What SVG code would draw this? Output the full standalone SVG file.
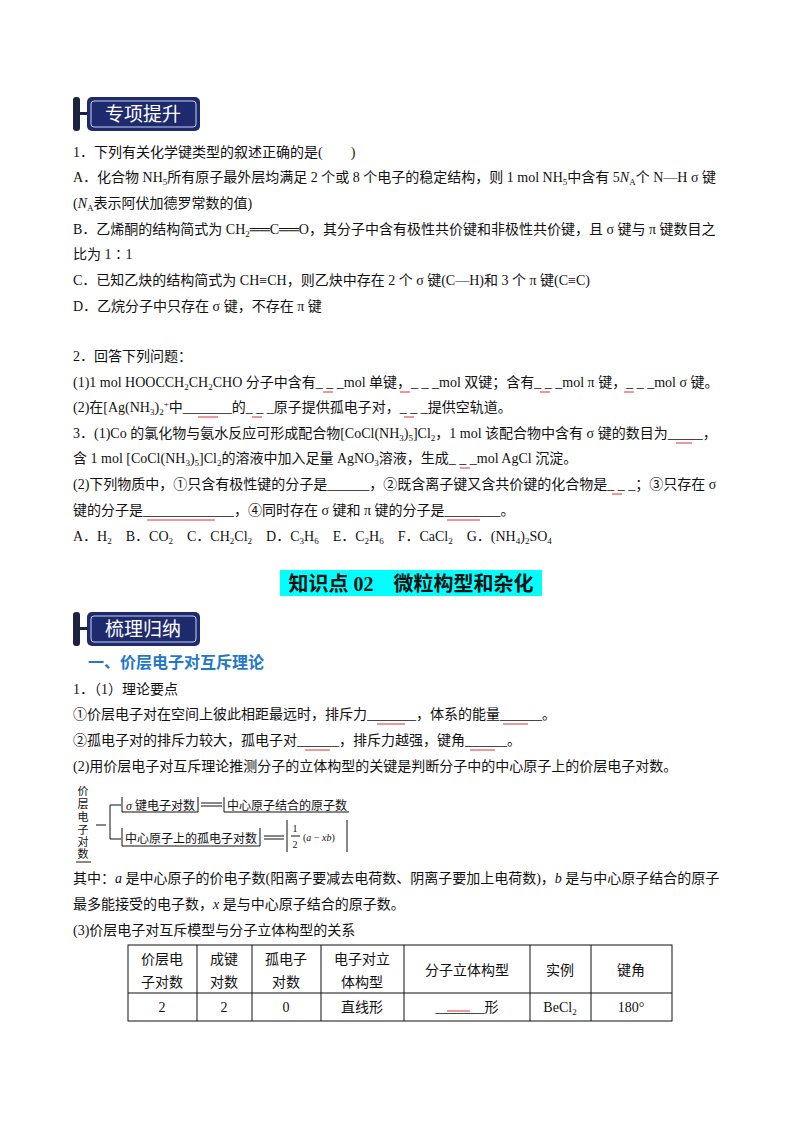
<svg xmlns="http://www.w3.org/2000/svg" width="800" height="1132" viewBox="0 0 800 1132">
<style>
text{font-family:"Liberation Serif","Noto Sans CJK SC",serif;font-size:14px;fill:#111}
.red{stroke:#e03030;stroke-width:1}
.blk{stroke:#111;stroke-width:1}
.bt{font-family:"Noto Sans CJK SC",sans-serif;font-size:19px;fill:#fff;text-anchor:middle}
.c{text-anchor:middle}
</style>
<defs>
<g id="badge">
<rect x="0" y="0" width="7" height="34" rx="3" fill="#1b2340"/>
<rect x="7" y="15" width="10" height="3" fill="#1b2340"/>
<rect x="14" y="0" width="113" height="34" rx="5" fill="#1d2a6e"/>
<rect x="18" y="4" width="105" height="26" rx="3" fill="none" stroke="#c9d2f0" stroke-width="1"/>
</g>
</defs>
<rect width="800" height="1132" fill="#fff"/>
<g id="badge1"><use href="#badge" x="73" y="97"/><text class="bt" x="143" y="121">专项提升</text></g>
<g id="q1">
<text x="73" y="157">1．下列有关化学键类型的叙述正确的是(　　)</text>
<text x="73" y="182">A．化合物 NH<tspan font-size="9" dy="3">5</tspan><tspan dy="-3">所有原子最外层均满足 2 个或 8 个电子的稳定结构，则 1 mol NH</tspan><tspan font-size="9" dy="3">5</tspan><tspan dy="-3">中含有 5</tspan><tspan font-style="italic">N</tspan><tspan font-size="9" dy="3">A</tspan><tspan dy="-3">个 N—H σ 键</tspan></text>
<text x="73" y="208">(<tspan font-style="italic">N</tspan><tspan font-size="9" dy="3">A</tspan><tspan dy="-3">表示阿伏加德罗常数的值)</tspan></text>
<text x="73" y="234">B．乙烯酮的结构简式为 CH<tspan font-size="9" dy="3">2</tspan><tspan dy="-3">══C══O，其分子中含有极性共价键和非极性共价键，且 σ 键与 π 键数目之</tspan></text>
<text x="73" y="259">比为 1∶1</text>
<text x="73" y="285">C．已知乙炔的结构简式为 CH≡CH，则乙炔中存在 2 个 σ 键(C—H)和 3 个 π 键(C≡C)</text>
<text x="73" y="311">D．乙烷分子中只存在 σ 键，不存在 π 键</text>
</g>
<g id="q2">
<text x="73" y="361">2．回答下列问题：</text>
<text x="73" y="387">(1)1 mol HOOCCH<tspan font-size="9" dy="3">2</tspan><tspan dy="-3">CH</tspan><tspan font-size="9" dy="3">2</tspan><tspan dy="-3">CHO 分子中含有_ _ _mol 单键，_ _ _mol 双键；含有_ _ _mol π 键，_ _ _mol σ 键。</tspan></text>
<text x="73" y="412">(2)在[Ag(NH<tspan font-size="9" dy="3">3</tspan><tspan dy="-3">)</tspan><tspan font-size="9" dy="3">2</tspan><tspan font-size="9" dy="-8">+</tspan><tspan dy="5">中_______的_ _ _原子提供孤电子对，_ _ _提供空轨道。</tspan></text>
<text x="73" y="438">3．(1)Co 的氯化物与氨水反应可形成配合物[CoCl(NH<tspan font-size="9" dy="3">3</tspan><tspan dy="-3">)</tspan><tspan font-size="9" dy="3">5</tspan><tspan dy="-3">]Cl</tspan><tspan font-size="9" dy="3">2</tspan><tspan dy="-3">，1 mol 该配合物中含有 σ 键的数目为_____，</tspan></text>
<text x="73" y="463">含 1 mol [CoCl(NH<tspan font-size="9" dy="3">3</tspan><tspan dy="-3">)</tspan><tspan font-size="9" dy="3">5</tspan><tspan dy="-3">]Cl</tspan><tspan font-size="9" dy="3">2</tspan><tspan dy="-3">的溶液中加入足量 AgNO</tspan><tspan font-size="9" dy="3">3</tspan><tspan dy="-3">溶液，生成_ _ _mol AgCl 沉淀。</tspan></text>
<text x="73" y="489">(2)下列物质中，①只含有极性键的分子是______，②既含离子键又含共价键的化合物是_ _ _；③只存在 σ</text>
<text x="73" y="515">键的分子是_____________，④同时存在 σ 键和 π 键的分子是________。</text>
<text x="73" y="541">A．H<tspan font-size="9" dy="3">2</tspan><tspan dy="-3">　B．CO</tspan><tspan font-size="9" dy="3">2</tspan><tspan dy="-3">　C．CH</tspan><tspan font-size="9" dy="3">2</tspan><tspan dy="-3">Cl</tspan><tspan font-size="9" dy="3">2</tspan><tspan dy="-3">　D．C</tspan><tspan font-size="9" dy="3">3</tspan><tspan dy="-3">H</tspan><tspan font-size="9" dy="3">6</tspan><tspan dy="-3">　E．C</tspan><tspan font-size="9" dy="3">2</tspan><tspan dy="-3">H</tspan><tspan font-size="9" dy="3">6</tspan><tspan dy="-3">　F．CaCl</tspan><tspan font-size="9" dy="3">2</tspan><tspan dy="-3">　G．(NH</tspan><tspan font-size="9" dy="3">4</tspan><tspan dy="-3">)</tspan><tspan font-size="9" dy="3">2</tspan><tspan dy="-3">SO</tspan><tspan font-size="9" dy="3">4</tspan></text>
</g>
<g id="title2">
<rect x="280" y="570" width="262" height="26" fill="#00ffff"/>
<text x="411" y="591" class="c" style="font-size:20px;font-weight:bold">知识点 02　微粒构型和杂化</text>
</g>
<g id="badge2"><use href="#badge" x="73" y="612"/><text class="bt" x="143" y="636">梳理归纳</text></g>
<text x="88" y="668" style="font-family:'Noto Sans CJK SC',sans-serif;font-size:16px;font-weight:bold;fill:#1f78c8">一、价层电子对互斥理论</text>
<g id="sec1">
<text x="73" y="694">1．（1）理论要点</text>
<text x="73" y="719">①价层电子对在空间上彼此相距最远时，排斥力_______，体系的能量______。</text>
<text x="73" y="745">②孤电子对的排斥力较大，孤电子对______，排斥力越强，键角______。</text>
<text x="73" y="771">(2)用价层电子对互斥理论推测分子的立体构型的关键是判断分子中的中心原子上的价层电子对数。</text>
</g>
<g id="red-blanks" class="red">
<line x1="323" y1="392" x2="333" y2="392"/><line x1="400" y1="392" x2="410" y2="392"/><line x1="540" y1="392" x2="550" y2="392"/><line x1="624" y1="392" x2="634" y2="392"/>
<line x1="198" y1="417" x2="218" y2="417"/><line x1="252" y1="417" x2="262" y2="417"/><line x1="404" y1="417" x2="414" y2="417"/>
<line x1="676" y1="443" x2="692" y2="443"/><line x1="460" y1="468" x2="470" y2="468"/>
<line x1="612" y1="494" x2="622" y2="494"/><line x1="147" y1="520" x2="215" y2="520"/><line x1="447" y1="520" x2="480" y2="520"/>
<line x1="377" y1="724" x2="405" y2="724"/><line x1="503" y1="724" x2="528" y2="724"/>
<line x1="305" y1="750" x2="330" y2="750"/><line x1="470" y1="750" x2="495" y2="750"/>
<line x1="447" y1="1011" x2="470" y2="1011"/>
</g>
<g id="diagram">
<text x="83" y="795" class="c" style="font-size:11px">价</text>
<text x="83" y="808" class="c" style="font-size:11px">层</text>
<text x="83" y="821" class="c" style="font-size:11px">电</text>
<text x="83" y="834" class="c" style="font-size:11px">子</text>
<text x="83" y="846" class="c" style="font-size:11px">对</text>
<text x="83" y="858" class="c" style="font-size:11px">数</text>
<line x1="76" y1="862" x2="91" y2="862" class="blk"/>
<g class="blk" fill="none">
<line x1="96" y1="825" x2="106" y2="825"/>
<path d="M121,805 H110 V839 H121"/>
<path d="M122,797 V812 H198 V797"/>
<path d="M224,797 V812 H349"/>
<path d="M122,828 V846 H260 V828"/>
<path d="M287,820 V852 M347,820 V852"/>
<line x1="201" y1="803" x2="222" y2="803"/><line x1="201" y1="806" x2="222" y2="806"/>
<line x1="264" y1="836" x2="284" y2="836"/><line x1="264" y1="839" x2="284" y2="839"/>
<line x1="291" y1="836" x2="300" y2="836"/>
</g>
<text x="126" y="810" style="font-size:12px"><tspan font-style="italic">σ</tspan> 键电子对数</text>
<text x="227" y="810" style="font-size:12px">中心原子结合的原子数</text>
<text x="125" y="843" style="font-size:12px">中心原子上的孤电子对数</text>
<text x="295" y="832" class="c" style="font-size:10px">1</text>
<text x="295" y="848" class="c" style="font-size:10px">2</text>
<text x="303" y="841" style="font-size:10px">(<tspan font-style="italic">a</tspan> − <tspan font-style="italic">xb</tspan>)</text>
</g>
<g id="sec2">
<text x="73" y="883">其中：<tspan font-style="italic">a</tspan> 是中心原子的价电子数(阳离子要减去电荷数、阴离子要加上电荷数)，<tspan font-style="italic">b</tspan> 是与中心原子结合的原子</text>
<text x="73" y="909">最多能接受的电子数，<tspan font-style="italic">x</tspan> 是与中心原子结合的原子数。</text>
<text x="73" y="935">(3)价层电子对互斥模型与分子立体构型的关系</text>
</g>
<g id="table">
<g class="blk" fill="none">
<rect x="128" y="945" width="544" height="76"/>
<line x1="128" y1="993" x2="672" y2="993"/>
<line x1="197" y1="945" x2="197" y2="1021"/><line x1="252" y1="945" x2="252" y2="1021"/><line x1="321" y1="945" x2="321" y2="1021"/><line x1="404" y1="945" x2="404" y2="1021"/><line x1="530" y1="945" x2="530" y2="1021"/><line x1="591" y1="945" x2="591" y2="1021"/>
</g>
<text x="162" y="964" class="c">价层电</text><text x="162" y="987" class="c">子对数</text>
<text x="224" y="964" class="c">成键</text><text x="224" y="987" class="c">对数</text>
<text x="286" y="964" class="c">孤电子</text><text x="286" y="987" class="c">对数</text>
<text x="362" y="964" class="c">电子对立</text><text x="362" y="987" class="c">体构型</text>
<text x="467" y="975" class="c">分子立体构型</text>
<text x="560" y="975" class="c">实例</text>
<text x="631" y="975" class="c">键角</text>
<text x="162" y="1012" class="c">2</text>
<text x="224" y="1012" class="c">2</text>
<text x="286" y="1012" class="c">0</text>
<text x="362" y="1012" class="c">直线形</text>
<text x="467" y="1012" class="c">_______形</text>
<text x="560" y="1012" class="c">BeCl<tspan font-size="9" dy="3">2</tspan></text>
<text x="631" y="1012" class="c">180°</text>
</g>
</svg>
